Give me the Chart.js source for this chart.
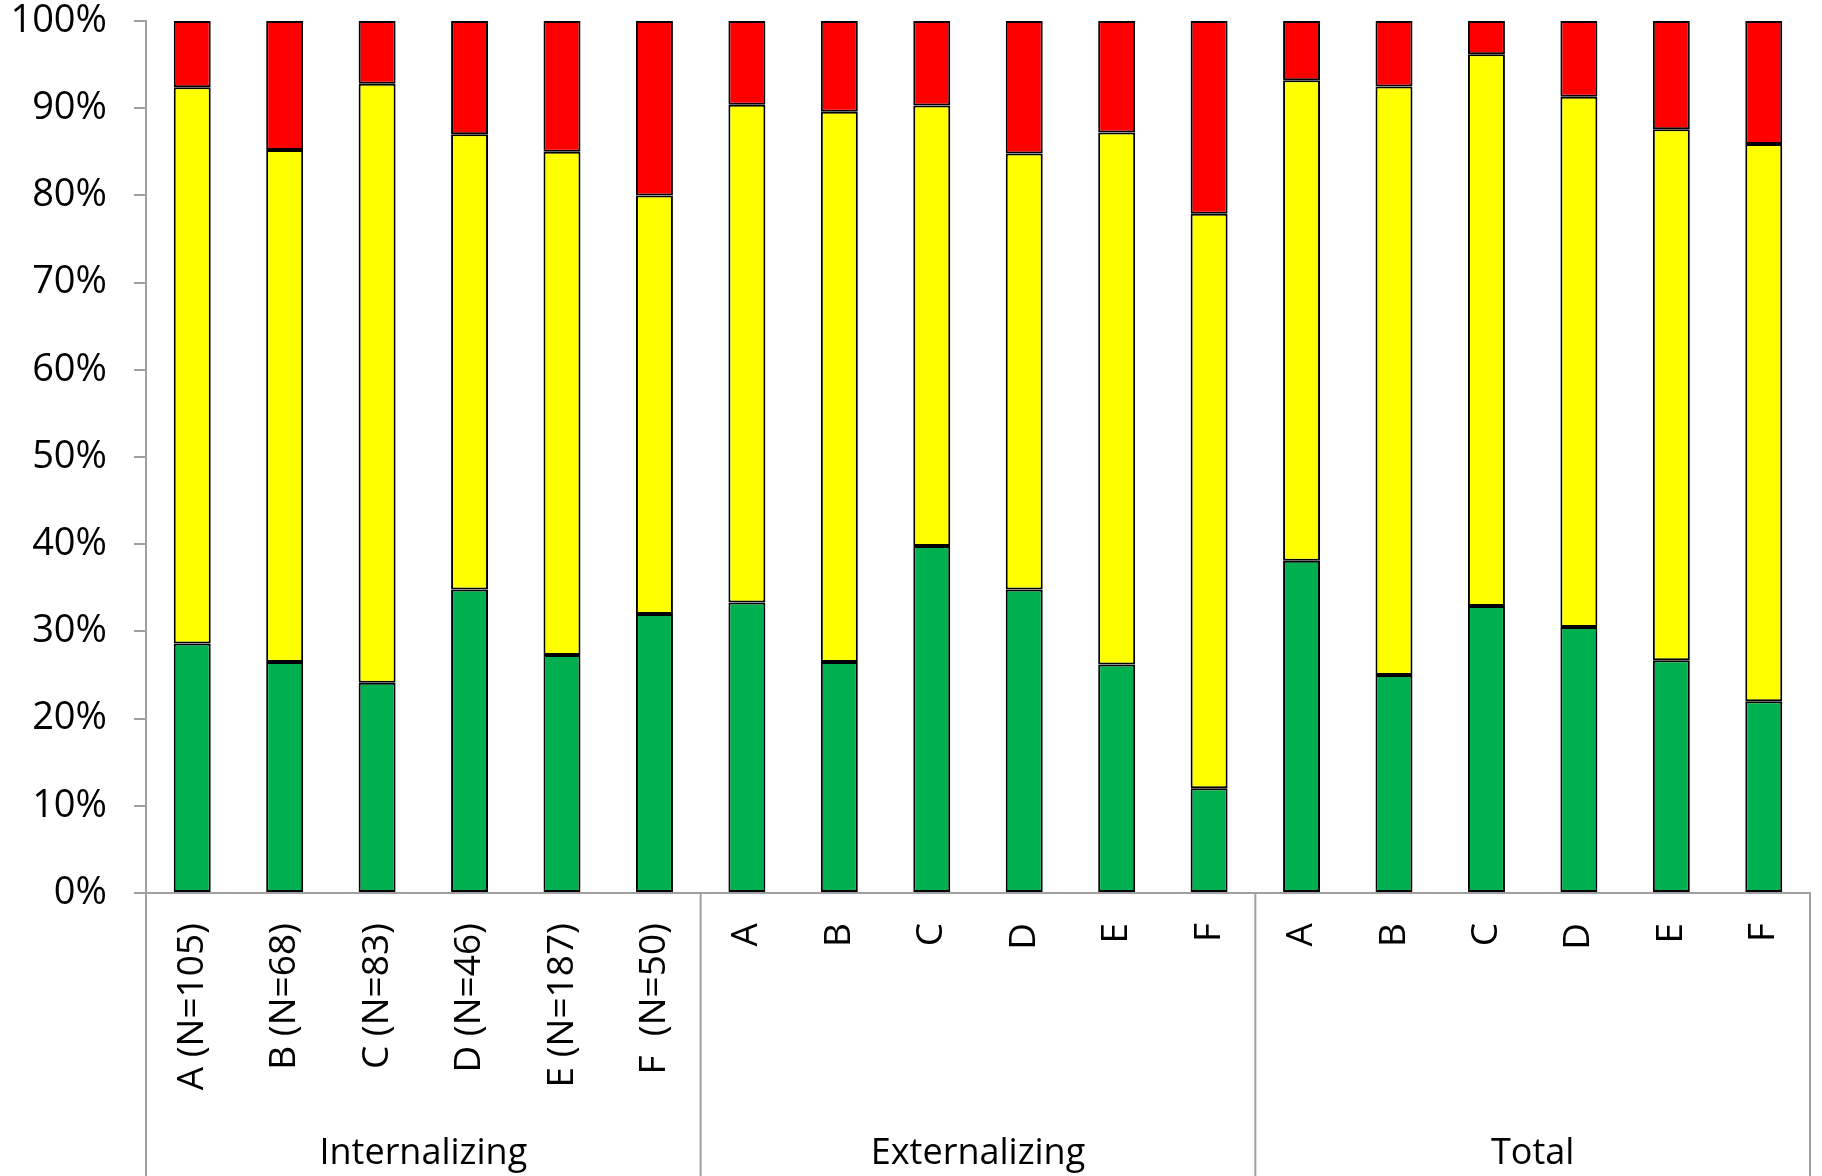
<!doctype html>
<html>
<head>
<meta charset="utf-8">
<title>Stacked percentages by group</title>
<script src="https://cdn.jsdelivr.net/npm/chart.js@4"></script>
<style>
  body { margin: 0; background: #fff; }
  canvas { display: block; }
</style>
</head>
<body>
<canvas id="c" width="1822" height="1176"></canvas>
<script>
// Категории по оси X (18 столбиков, 3 группы по 6)
const labels = [
  'A (N=105)', 'B (N=68)', 'C (N=83)', 'D (N=46)', 'E (N=187)', 'F  (N=50)',
  'A', 'B', 'C', 'D', 'E', 'F',
  'A', 'B', 'C', 'D', 'E', 'F',
];
const groups = ['Internalizing', 'Externalizing', 'Total'];
const groupSize = 6;

// Доли сегментов, % (снизу вверх: зелёный, жёлтый, красный)
const greenPct  = [28.6, 26.5, 24.1, 34.8, 27.3, 32.0,  33.3, 26.5, 39.8, 34.8, 26.2, 12.0,  38.1, 25.0, 32.9, 30.5, 26.7, 22.0];
const yellowPct = [63.8, 58.7, 68.7, 52.2, 57.7, 48.0,  57.1, 63.1, 50.5, 50.0, 61.0, 65.9,  55.1, 67.5, 63.3, 60.8, 60.9, 63.9];
const redPct    = [ 7.6, 14.8,  7.2, 13.0, 15.0, 20.0,   9.6, 10.4,  9.7, 15.2, 12.8, 22.1,   6.8,  7.5,  3.8,  8.7, 12.4, 14.1];

const yTicks = [0, 10, 20, 30, 40, 50, 60, 70, 80, 90, 100];

const FONT = '"Open Sans", "Noto Sans", sans-serif';
const AXIS = '#A0A0A0';

// Разделители групп и подписи групп под осью X
const groupPlugin = {
  id: 'groups',
  afterDraw(chart) {
    const { ctx, chartArea, scales } = chart;
    const x = scales.x;
    const bottom = chart.height;
    const bounds = [chartArea.left];
    for (let g = 1; g < groups.length; g++) {
      const i = g * groupSize;
      bounds.push((x.getPixelForValue(i - 1) + x.getPixelForValue(i)) / 2);
    }
    bounds.push(chartArea.right);
    ctx.save();
    ctx.strokeStyle = AXIS;
    ctx.lineWidth = 2;
    for (const bx of bounds) {
      ctx.beginPath();
      ctx.moveTo(bx, chartArea.bottom);
      ctx.lineTo(bx, bottom);
      ctx.stroke();
    }
    ctx.fillStyle = '#000';
    ctx.font = '36px ' + FONT;
    ctx.textAlign = 'center';
    ctx.textBaseline = 'middle';
    groups.forEach((name, g) => {
      ctx.fillText(name, (bounds[g] + bounds[g + 1]) / 2, bottom - 22);
    });
    ctx.restore();
  },
};

const seg = (data, color) => ({
  data,
  backgroundColor: color,
  borderColor: '#000',
  borderWidth: 2,
  borderSkipped: false,
  barPercentage: 0.4,
  categoryPercentage: 1,
});

new Chart(document.getElementById('c'), {
  type: 'bar',
  data: {
    labels,
    datasets: [
      seg(greenPct, '#00B050'),
      seg(yellowPct, '#FFFF00'),
      seg(redPct, '#FF0000'),
    ],
  },
  options: {
    responsive: false,
    animation: false,
    layout: { autoPadding: false, padding: { top: 21, right: 12, left: 0, bottom: 0 } },
    plugins: { legend: { display: false }, tooltip: { enabled: false } },
    scales: {
      x: {
        stacked: true,
        grid: { display: false },
        border: { display: true, color: AXIS, width: 2 },
        ticks: {
          color: '#000',
          font: { family: FONT, size: 37 },
          minRotation: 90,
          maxRotation: 90,
          autoSkip: false,
          padding: 22,
        },
        afterFit(s) { s.height = 283; s.paddingLeft = 0; s.paddingRight = 0; },
      },
      y: {
        stacked: true,
        min: 0,
        max: 100,
        afterBuildTicks(s) { s.ticks = yTicks.map(v => ({ value: v })); },
        grid: { drawOnChartArea: false, drawTicks: true, tickLength: 12, tickColor: AXIS, lineWidth: 2 },
        border: { display: true, color: AXIS, width: 2 },
        ticks: {
          color: '#000',
          font: { family: FONT, size: 38 },
          padding: 27,
          callback: v => v + '%',
        },
        afterFit(s) { s.width = 146; s.paddingTop = 0; s.paddingBottom = 0; },
      },
    },
  },
  plugins: [groupPlugin],
});
</script>
</body>
</html>
